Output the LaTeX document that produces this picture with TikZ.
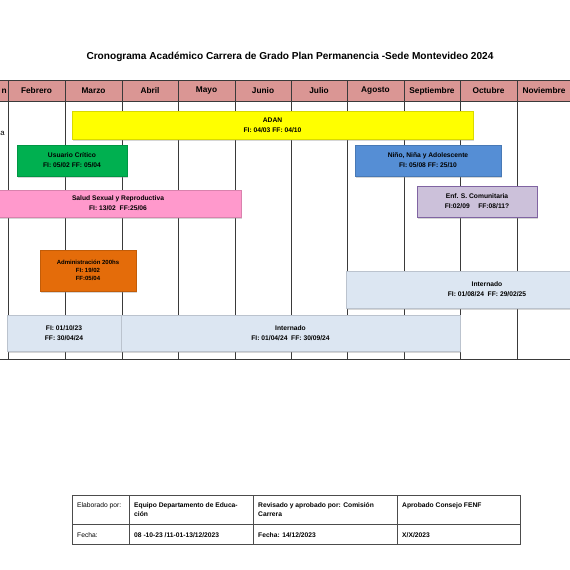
\documentclass[tikz,border=0pt]{standalone}
\usepackage{fontspec}
\setmainfont{Liberation Sans}
\usetikzlibrary{shadows}
\definecolor{hdrfill}{HTML}{DA9694}
\definecolor{gridc}{HTML}{3A3A3A}
\definecolor{cYellow}{HTML}{FFFF00}
\definecolor{cGreen}{HTML}{00B050}
\definecolor{cPink}{HTML}{FF99CC}
\definecolor{cBlue}{HTML}{558ED5}
\definecolor{cLav}{HTML}{CCC1DA}
\definecolor{cLavB}{HTML}{8064A2}
\definecolor{cOrange}{HTML}{E46C0A}
\definecolor{cInt}{HTML}{DCE6F2}
\begin{document}
\begin{tikzpicture}[x=1pt,y=-1pt,
  gridline/.style={draw=gridc, line width=0.7pt},
  hline/.style={draw=gridc, line width=1pt},
  month/.style={font=\bfseries\fontsize{8.3}{9}\selectfont, inner sep=0pt},
  bar/.style={draw=#1!85!black, line width=0.4pt, fill=#1, align=center, inner sep=0pt,
    font=\bfseries\fontsize{6.7}{10}\selectfont,
    drop shadow={shadow xshift=1pt, shadow yshift=-1.5pt, opacity=0.35, fill=black!45}},
  cell/.style={inner sep=0pt, align=left, font=\fontsize{6.7}{9}\selectfont},
  bcell/.style={cell, font=\bfseries\fontsize{6.7}{9}\selectfont},
  tline/.style={draw=black!70, line width=0.6pt}]
\useasboundingbox (0,0) rectangle (570,570);
\clip (0,0) rectangle (570,570);
\fill[white] (0,0) rectangle (570,570);

% title
\node[font=\bfseries\fontsize{10.1}{12}\selectfont] (title) at (290,57)
  {Cronograma Académico Carrera de Grado Plan Permanencia -Sede Montevideo 2024};

% header band and grid
\fill[hdrfill] (0,80) rectangle (570,101);
\foreach \x in {8,65,122,178,235,291,347,404,460,517}
  \draw[gridline] (\x,80) -- (\x,359);
\draw[hline] (0,80) -- (570,80);
\draw[hline] (0,101) -- (570,101);
\draw[hline] (0,359) -- (570,359);

\node[month, anchor=east] (ene) at (7,91) {n};
\node[month] (feb) at (36.5,91) {Febrero};
\node[month] (mar) at (93.5,91) {Marzo};
\node[month] (abr) at (150,91) {Abril};
\node[month] (may) at (206.5,91) {Mayo};
\node[month] (jun) at (263,91) {Junio};
\node[month] (jul) at (319,91) {Julio};
\node[month] (ago) at (375.5,91) {Agosto};
\node[month] (sep) at (432,91) {Septiembre};
\node[month] (oct) at (488.5,91) {Octubre};
\node[month] (nov) at (544,91) {Noviembre};
\node[font=\fontsize{7.8}{9}\selectfont, inner sep=0pt, anchor=east] (lefta) at (5,133) {a};

% bars
\node[bar=cYellow, minimum width=401, minimum height=28] (adan) at (272.5,125)
  {ADAN\\FI: 04/03 FF: 04/10};
\node[bar=cGreen, minimum width=110, minimum height=31] (uc) at (72,160.5)
  {Usuario Crítico\\FI: 05/02 FF: 05/04};
\node[bar=cBlue, minimum width=146, minimum height=31] (nna) at (428,160.5)
  {Niño, Niña y Adolescente\\FI: 05/08 FF: 25/10};
\node[bar=cPink, minimum width=246, minimum height=27] (ssr) at (118,203.5)
  {Salud Sexual y Reproductiva\\FI: 13/02 \ FF:25/06};
\node[bar=cLav, draw=cLavB, line width=0.7pt, minimum width=120, minimum height=31] (esc) at (477,201.5)
  {Enf. S. Comunitaria\\FI:02/09 \quad FF:08/11?};
\node[bar=cOrange, font=\bfseries\fontsize{6}{8}\selectfont, minimum width=96, minimum height=41] (adm) at (88,270.5)
  {Administración 200hs\\FI: 19/02\\FF:05/04};
\node[bar=cInt, draw=cInt!85!black, minimum width=282, minimum height=37] (int2) at (487,289.5)
  {Internado\\FI: 01/08/24 \ FF: 29/02/25};
\node[bar=cInt, draw=cInt!85!black, minimum width=114, minimum height=36] (int0) at (64,333)
  {FI: 01/10/23\\FF: 30/04/24};
\node[bar=cInt, draw=cInt!85!black, minimum width=339, minimum height=36] (int1) at (290.5,333)
  {Internado\\FI: 01/04/24 \ FF: 30/09/24};

% signature table
\draw[tline] (72,495) rectangle (520,544);
\draw[tline] (72,524) -- (520,524);
\foreach \x in {129,253,397}
  \draw[tline] (\x,495) -- (\x,544);
\node[cell, anchor=north west] (elab) at (77,502.3) {Elaborado por:};
\node[bcell, anchor=north west] (equipo) at (134,502.3) {Equipo Departamento de Educa-\\ción};
\node[bcell, anchor=north west] (rev) at (258,502.3) {Revisado y aprobado por: Comisión\\Carrera};
\node[bcell, anchor=north west] (apr) at (402,502.3) {Aprobado Consejo FENF};
\node[cell, anchor=north west] (fecha) at (77,532.3) {Fecha:};
\node[bcell, anchor=north west] (f1) at (134,532.3) {08 -10-23 /11-01-13/12/2023};
\node[bcell, anchor=north west] (f2) at (258,532.3) {Fecha: 14/12/2023};
\node[bcell, anchor=north west] (f3) at (402,532.3) {X/X/2023};
\end{tikzpicture}
\end{document}
